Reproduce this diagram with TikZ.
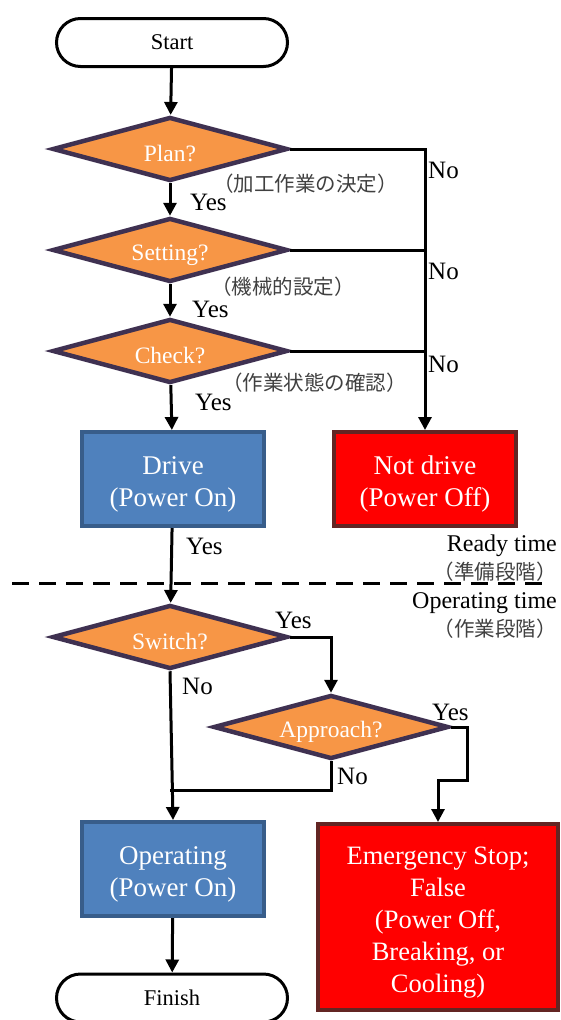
\documentclass[tikz,border=0pt]{standalone}
\usepackage{fontspec}
\setmainfont{Liberation Serif}
\newfontfamily\jpfont{Noto Sans CJK JP}
\usetikzlibrary{shapes.geometric,arrows.meta}
\definecolor{dorange}{HTML}{F79646}
\definecolor{dpurple}{HTML}{3F3151}
\definecolor{bfill}{HTML}{4F81BD}
\definecolor{bline}{HTML}{385D8A}
\definecolor{rfill}{HTML}{FF0000}
\definecolor{rline}{HTML}{632523}
\definecolor{jgray}{HTML}{404040}
\newcommand{\dropA}{\rule{0pt}{26pt}}
\newcommand{\dropB}{\rule{0pt}{28pt}}
\newcommand{\dropC}{\rule{0pt}{25pt}}
\tikzset{
  term/.style={draw=black, line width=3pt, fill=white, rounded corners=24pt,
    minimum width=231pt, minimum height=48pt, inner sep=0pt,
    font=\fontsize{22.5}{26}\selectfont},
  dec/.style={diamond, draw=dpurple, fill=dorange, line width=4.5pt, aspect=3.6,
    minimum width=235pt, minimum height=64pt, inner sep=0pt, text=white,
    font=\fontsize{23.5}{28}\selectfont},
  bluebox/.style={draw=bline, fill=bfill, line width=4pt, minimum width=182pt,
    minimum height=94pt, inner sep=0pt, text=white, align=center,
    font=\fontsize{27}{32}\selectfont},
  redbox/.style={draw=rline, fill=rfill, line width=4pt, minimum width=182pt,
    minimum height=94pt, inner sep=0pt, text=white, align=center,
    font=\fontsize{27}{32}\selectfont},
  arr/.style={line width=3pt, -{Triangle[width=13pt,length=13pt]}},
  conn/.style={line width=3pt},
  lbl/.style={inner sep=0pt, anchor=west, font=\fontsize{25}{28}\selectfont},
  jlbl/.style={inner sep=0pt, text=jgray, font=\jpfont\fontsize{20.5}{24}\selectfont},
  rlbl/.style={inner sep=0pt, anchor=east, font=\fontsize{24}{28}\selectfont},
}
\begin{document}
\begin{tikzpicture}[x=1pt,y=-1pt]
\useasboundingbox (0,0) rectangle (561,1020);
% nodes
\node[term] (start) at (172,42.5) {Start};
\node[dec] (plan) at (170,149) {\dropA Plan?};
\node[dec] (setting) at (170,250) {\dropA Setting?};
\node[dec] (check) at (170,351) {\dropA Check?};
\node[bluebox] (drive) at (173,479) {\dropB Drive\\(Power On)};
\node[redbox] (notdrive) at (425,479) {\dropB Not drive\\(Power Off)};
\node[dec] (switch) at (170,637) {\dropA Switch?};
\node[dec] (approach) at (331,727) {\dropC Approach?};
\node[bluebox] (oper) at (173,869) {\dropB Operating\\(Power On)};
\node[redbox, minimum width=240pt, minimum height=186pt,
  font=\fontsize{26.5}{32}\selectfont] (emerg) at (438,917)
  {\rule{0pt}{29pt}Emergency Stop;\\False\\(Power Off,\\Breaking, or\\Cooling)};
\node[term] (finish) at (172,998) {Finish};

% connectors
\draw[arr] (start) -- (plan);
\draw[arr] (plan) -- (setting);
\draw[arr] (setting) -- (check);
\draw[arr] (check) -- (drive);
\draw[arr] (plan.east) -| (notdrive.north);
\draw[conn] (setting.east) -- (setting.east -| notdrive.north);
\draw[conn] (check.east) -- (check.east -| notdrive.north);
\draw[arr] (drive) -- (switch);
\draw[arr] (switch.east) -| (approach.north);
\draw[arr] (switch.south) -- (oper.north);
\coordinate (ay1) at (467,780);
\coordinate (ay2) at (438,780);
\draw[arr] (approach.east) -| (ay1) -- (ay2) -- (emerg.north);
\coordinate (an) at (331,790);
\draw[conn] (approach.south) -- (an) -- (an -| switch.south);
\draw[arr] (oper) -- (finish);

% phase separator
\draw[line width=3pt, dash pattern=on 17pt off 10pt] (12,583) -- (548,583);

% labels
\node[lbl] (y1) at (190,202.5) {Yes};
\node[lbl] (y2) at (192,309) {Yes};
\node[lbl] (y3) at (195,402.5) {Yes};
\node[lbl] (y4) at (186,546) {Yes};
\node[lbl] (n1) at (428,170) {No};
\node[lbl] (n2) at (428,271) {No};
\node[lbl] (n3) at (428,364) {No};
\node[lbl] (y5) at (275,620) {Yes};
\node[lbl] (n4) at (182,686) {No};
\node[lbl] (y6) at (432,712) {Yes};
\node[lbl] (n5) at (337,776) {No};

\node[jlbl, anchor=west] (j1) at (213,183.5) {（加工作業の決定）};
\node[jlbl, anchor=west] (j2) at (211,287) {（機械的設定）};
\node[jlbl, anchor=west] (j3) at (222,382.5) {（作業状態の確認）};

\node[rlbl] (ready) at (557,546) {Ready time};
\node[jlbl, anchor=east] (j4) at (557,572) {（準備段階）};
\node[rlbl] (operating) at (557,603) {Operating time};
\node[jlbl, anchor=east] (j5) at (557,629) {（作業段階）};
\end{tikzpicture}
\end{document}
